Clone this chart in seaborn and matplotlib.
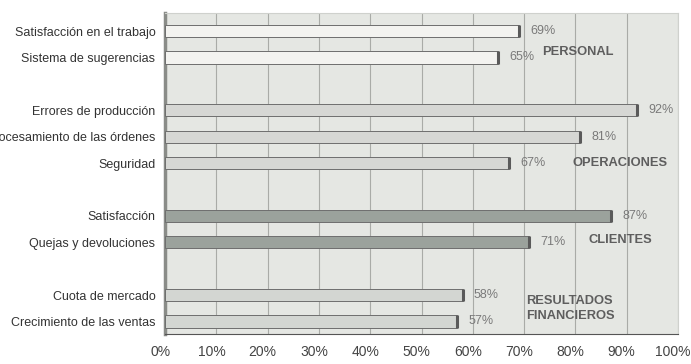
import numpy as np
import pandas as pd
import seaborn as sns
from matplotlib import pyplot as plt
from matplotlib.ticker import FixedLocator
from matplotlib import transforms

# data
categorias = ["Satisfacción en el trabajo", "Sistema de sugerencias",
              "Errores de producción", "Procesamiento de las órdenes", "Seguridad",
              "Satisfacción", "Quejas y devoluciones",
              "Cuota de mercado", "Crecimiento de las ventas"]
valores = [69, 65, 92, 81, 67, 87, 71, 58, 57]
grupos = ["PERSONAL", "PERSONAL",
          "OPERACIONES", "OPERACIONES", "OPERACIONES",
          "CLIENTES", "CLIENTES",
          "RESULTADOS\nFINANCIEROS", "RESULTADOS\nFINANCIEROS"]
posiciones = [0, 1, 3, 4, 5, 7, 8, 10, 11]   # gaps between the groups

colores = {"PERSONAL": "#f3f3ef",
           "OPERACIONES": "#d6d8d3",
           "CLIENTES": "#9aa39b",
           "RESULTADOS\nFINANCIEROS": "#d3d7d1"}

df = pd.DataFrame({"cat": categorias, "valor": valores,
                   "grupo": grupos, "pos": posiciones})

sns.set_style("white")
plt.rcParams['font.family'] = ['Liberation Sans', 'DejaVu Sans']

fig = plt.figure(figsize=(6.91, 3.64), dpi=100)
ax = fig.add_axes([0.239, 0.082, 0.742, 0.882])
ax.set_facecolor("#e5e7e3")

sns.barplot(data=df, x="valor", y="pos", hue="grupo", palette=colores,
            orient="y", native_scale=True, dodge=False, width=0.46,
            edgecolor="#6e6e6e", linewidth=0.7, legend=False, ax=ax, zorder=3)

# end caps to fake the 3D look
for _, r in df.iterrows():
    ax.plot([r.valor, r.valor], [r.pos - 0.23, r.pos + 0.23],
            color="#5a5a5a", lw=2.2, zorder=4, solid_capstyle="butt")

ax.set_xlim(0, 100)
ax.set_ylim(11.48, -0.68)
ax.set_xticks(np.arange(0, 101, 10))
ax.set_xticklabels([f"{v}%" for v in range(0, 101, 10)], fontsize=10, color="#444444")
ax.set_yticks(posiciones)
ax.set_yticklabels(categorias, fontsize=9, color="#333333")
ax.yaxis.set_minor_locator(FixedLocator(np.arange(-0.5, 11.6, 1)))
ax.tick_params(axis="y", which="major", length=0, pad=7)
ax.tick_params(axis="y", which="minor", length=4, color="#666666")
ax.tick_params(axis="x", length=0, pad=8)
# front edge of the fake 3D floor sits a little to the left
desplaza = transforms.ScaledTranslation(-5 / 100, 0, fig.dpi_scale_trans)
for t in ax.xaxis.get_major_ticks():
    t.label1.set_transform(t.label1.get_transform() + desplaza)
ax.set_xlabel("")
ax.set_ylabel("")
ax.xaxis.grid(True, color="#a9aba7", lw=0.8, zorder=0)
ax.set_axisbelow(True)
for s in ["top", "right"]:
    ax.spines[s].set_color("#cfd1cd")
ax.spines["left"].set_color("#8a8c88")
ax.spines["left"].set_linewidth(2.5)
ax.spines["bottom"].set_color("#555555")

# value labels
for _, r in df.iterrows():
    ax.text(r.valor + 2.2, r.pos, f"{r.valor}%", va="center", ha="left",
            fontsize=9, color="#7a7a7a", zorder=5)

# group labels
etiquetas = {"PERSONAL": (73.5, 0.8), "OPERACIONES": (79.5, 5.0),
             "CLIENTES": (82.5, 7.9), "RESULTADOS\nFINANCIEROS": (70.5, 10.5)}
for texto, (xx, yy) in etiquetas.items():
    ax.text(xx, yy, texto, va="center", ha="left", fontsize=9.3,
            fontweight="bold", color="#5e5e5e", zorder=5, linespacing=1.3)

fig.savefig("out.png", dpi=100)
